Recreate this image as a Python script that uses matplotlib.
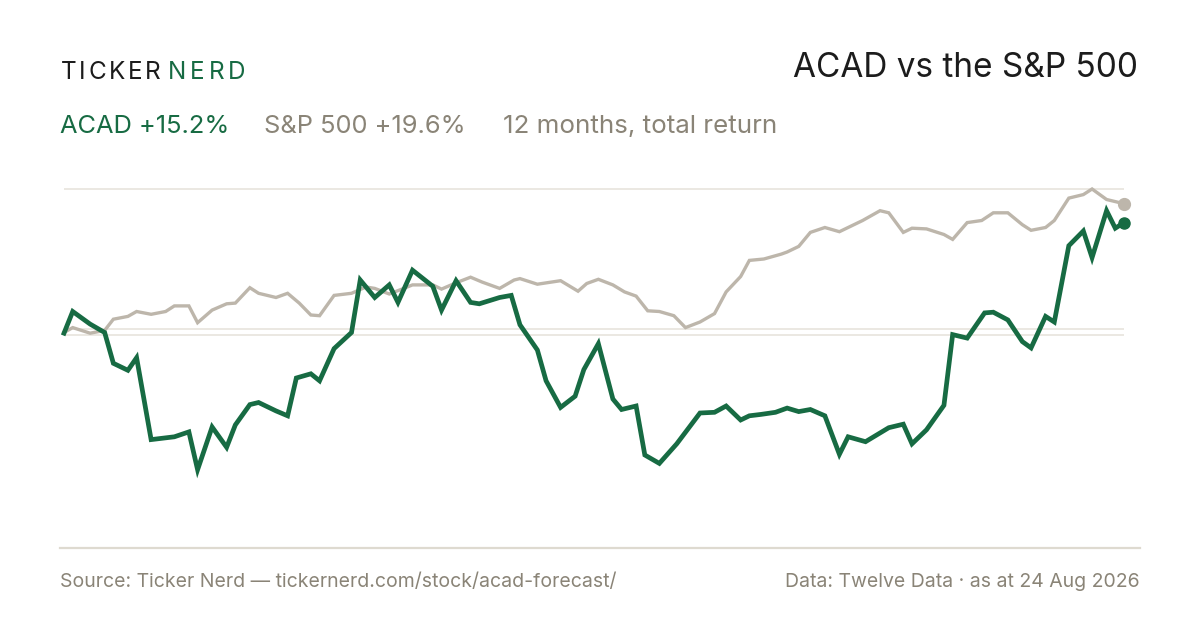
import matplotlib
matplotlib.use("Agg")
import matplotlib.pyplot as plt
from matplotlib.lines import Line2D

# ----------------------------------------------------------------------
# Data: day offset within the 12 months, % return
# ----------------------------------------------------------------------
acad_days = [0, 3, 9, 14, 17, 22, 25, 30, 38, 43, 46, 51, 56, 59, 64, 67, 73,
             77, 80, 85, 88, 93, 99, 102, 107, 112, 115, 120, 127, 130, 135,
             140, 143, 150, 154, 157, 163, 166, 171, 176, 179, 184, 189, 192,
             197, 200, 205, 211, 219, 224, 228, 233, 236, 240, 245, 249, 253,
             257, 262, 267, 270, 276, 284, 289, 292, 297, 303, 306, 311, 317,
             320, 325, 330, 333, 338, 341, 346, 351, 354, 359, 362, 365]
acad_ret = [-0.6, 2.5, 0.7, -0.5, -4.9, -5.9, -4.1, -15.8, -15.4, -14.7, -20.1,
            -14.0, -16.9, -13.7, -10.8, -10.5, -11.7, -12.4, -7.0, -6.4, -7.4,
            -2.8, -0.5, 7.0, 4.5, 6.3, 3.8, 8.4, 6.1, 2.7, 6.9, 3.8, 3.6, 4.5,
            4.8, 0.6, -3.0, -7.4, -11.2, -9.6, -5.8, -2.1, -10.0, -11.5, -11.0,
            -18.0, -19.2, -16.4, -12.0, -11.9, -11.0, -13.0, -12.4, -12.2,
            -11.9, -11.3, -11.8, -11.5, -12.4, -17.9, -15.4, -16.1, -14.1,
            -13.6, -16.4, -14.4, -10.9, -0.8, -1.3, 2.3, 2.4, 1.3, -1.8, -2.7,
            1.8, 1.0, 11.9, 14.0, 10.2, 16.9, 14.4, 15.2]

spx_days = [0, 3, 9, 14, 17, 22, 25, 30, 35, 38, 43, 46, 51, 56, 59, 64, 67, 73,
            77, 81, 85, 88, 93, 99, 104, 107, 112, 117, 120, 127, 130, 135, 140,
            144, 150, 155, 157, 163, 171, 177, 180, 184, 189, 193, 197, 201,
            205, 210, 214, 219, 224, 228, 233, 236, 241, 247, 249, 253, 257,
            262, 267, 275, 281, 284, 289, 292, 297, 303, 306, 311, 316, 320,
            325, 330, 333, 338, 341, 346, 351, 354, 359, 365]
spx_ret = [-0.5, 0.2, -0.6, -0.2, 1.4, 1.8, 2.5, 2.1, 2.5, 3.3, 3.3, 0.9, 2.7,
           3.6, 3.7, 5.9, 5.1, 4.5, 5.1, 3.7, 2.0, 1.9, 4.8, 5.1, 6.0, 5.8, 5.0,
           5.8, 6.3, 6.3, 5.7, 6.6, 7.4, 6.7, 5.8, 7.0, 7.2, 6.4, 6.9, 5.4, 6.5,
           7.1, 6.3, 5.3, 4.7, 2.6, 2.5, 1.9, 0.2, 1.0, 2.2, 5.3, 7.5, 9.8, 10.0,
           10.7, 11.0, 11.8, 13.8, 14.5, 13.9, 15.5, 16.9, 16.6, 13.8, 14.4,
           14.3, 13.5, 12.8, 15.2, 15.5, 16.6, 16.6, 14.9, 14.1, 14.5, 15.5,
           18.7, 19.2, 20.0, 18.5, 17.9]

grid_values = [0, 20]
start_level = -0.85

brand_left = "TICKER"
brand_right = "NERD"
title = "ACAD vs the S&P 500"
legend_acad = "ACAD +15.2%"
legend_spx = "S&P 500 +19.6%"
legend_note = "12 months, total return"
source_text = "Source: Ticker Nerd \u2014 tickernerd.com/stock/acad-forecast/"
data_text = "Data: Twelve Data \u00b7 as at 24 Aug 2026"

GREEN = "#176b43"
SPX_GREY = "#bdb6ab"
TEXT_GREY = "#8a8477"
INK = "#1c1c1c"
RULE = "#e9e6df"

W, H = 1200, 630
plt.rcParams["font.family"] = ["Inter", "DejaVu Sans"]

fig = plt.figure(figsize=(W / 100, H / 100), dpi=100)
fig.patch.set_facecolor("white")


def fx(px):
    return px / W


def fy(py):
    return 1 - py / H


# Plot area: x 64..1124 px, y 170..548 px
ax = fig.add_axes([fx(64), fy(548), (1124 - 64) / W, (548 - 170) / H])
ax.set_xlim(0, 365)
ax.set_ylim((329 - 548) / 7, (329 - 170) / 7)
ax.axis("off")

for g in grid_values:
    ax.axhline(g, color=RULE, linewidth=1.3, zorder=0)
ax.axhline(start_level, color=RULE, linewidth=1.3, zorder=0)

ax.plot(spx_days, spx_ret, color=SPX_GREY, linewidth=2.4,
        solid_joinstyle="miter", zorder=2, clip_on=False)
ax.plot(acad_days, acad_ret, color=GREEN, linewidth=3.4,
        solid_joinstyle="miter", zorder=3, clip_on=False)
ax.plot(spx_days[-1], spx_ret[-1], "o", color=SPX_GREY, markersize=8.5,
        zorder=4, clip_on=False)
ax.plot(acad_days[-1], acad_ret[-1], "o", color=GREEN, markersize=8,
        zorder=5, clip_on=False)

# bottom rule
fig.add_artist(Line2D([fx(60), fx(1140)], [fy(548), fy(548)],
                      color="#dedad0", linewidth=1.6))

# brand with letter tracking
renderer = fig.canvas.get_renderer()


def tracked(text, x_px, y_px, color, size, track):
    x = x_px
    for ch in text:
        t = fig.text(fx(x), fy(y_px), ch, color=color, fontsize=size,
                     va="baseline", ha="left")
        x += t.get_window_extent(renderer).width + track
    return x


end = tracked(brand_left, 61, 79, INK, 17.5, 2.6)
tracked(brand_right, end + 5, 79, GREEN, 17.5, 3.8)

fig.text(fx(1138), fy(77), title, color=INK, fontsize=24,
         ha="right", va="baseline")

fig.text(fx(60), fy(133), legend_acad, color=GREEN, fontsize=18.3,
         va="baseline")
fig.text(fx(264), fy(133), legend_spx, color=TEXT_GREY, fontsize=18.3,
         va="baseline")
fig.text(fx(503), fy(133), legend_note, color=TEXT_GREY, fontsize=18.7,
         va="baseline")

fig.text(fx(60), fy(587), source_text, color=TEXT_GREY, fontsize=14,
         va="baseline")
fig.text(fx(1140), fy(587), data_text, color=TEXT_GREY, fontsize=14,
         ha="right", va="baseline")

fig.savefig("out.png", dpi=100, facecolor="white")
